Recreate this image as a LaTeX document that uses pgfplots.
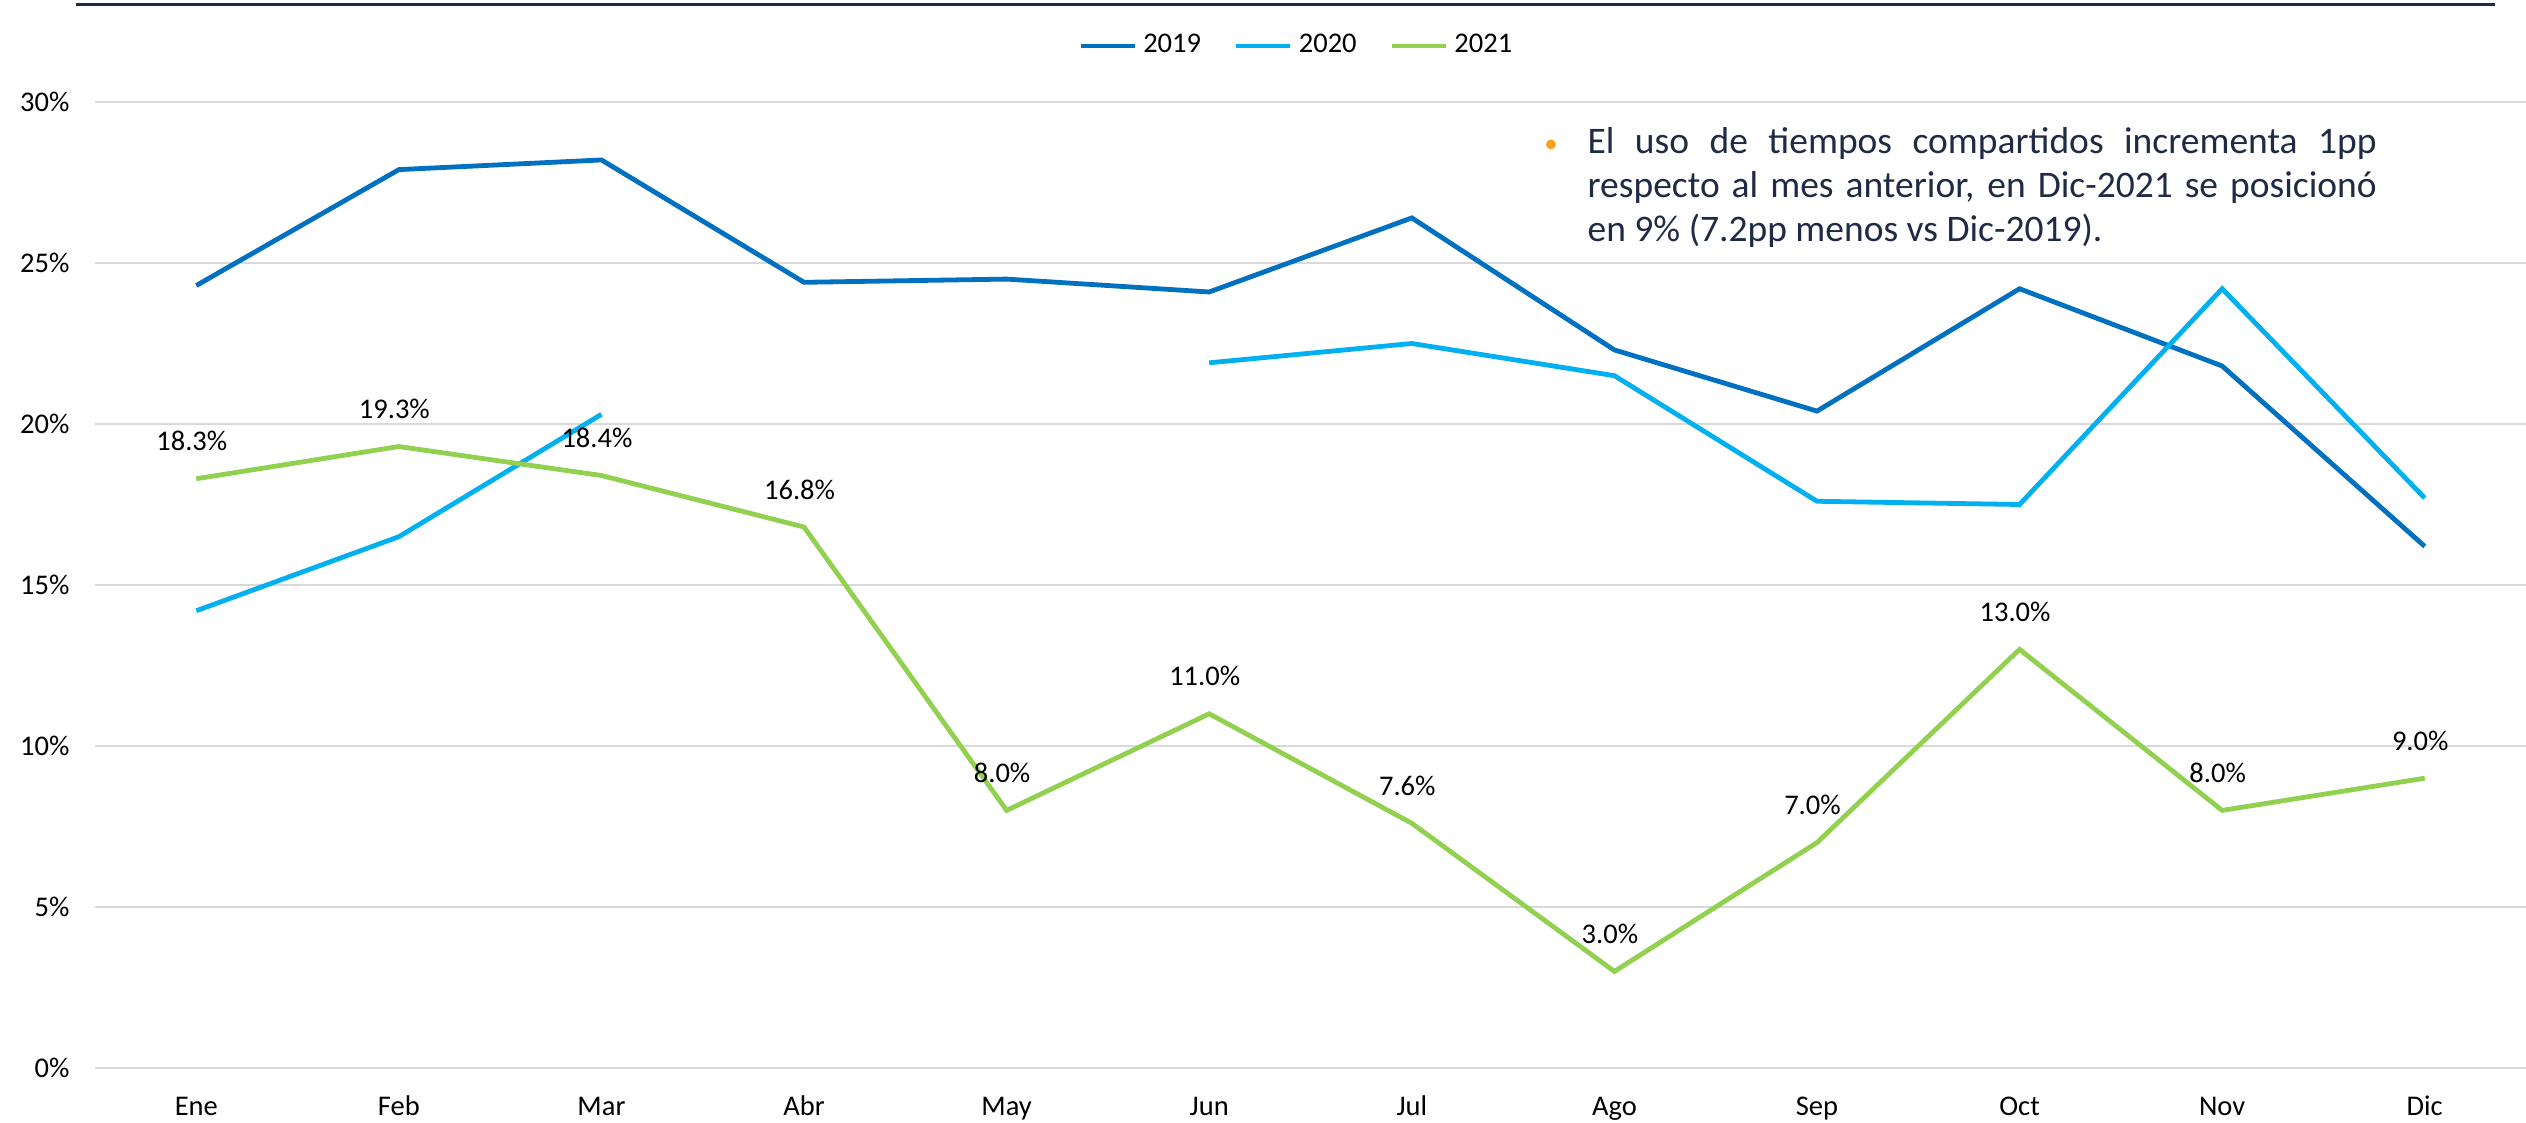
\documentclass[border=0pt]{standalone}
\usepackage{fontspec}
\setmainfont{Carlito}
\usepackage{pgfplots}
\pgfplotsset{compat=1.18}
\definecolor{c19}{HTML}{0070C0}
\definecolor{c20}{HTML}{00B0F0}
\definecolor{c21}{HTML}{92D050}
\definecolor{navy}{HTML}{1F2A44}
\definecolor{gridc}{HTML}{D9D9D9}
\definecolor{orng}{HTML}{F7A21B}
\begin{document}
\begin{tikzpicture}
\path[use as bounding box] (0,0) rectangle (842pt,374.33pt);
\draw[line width=0.9pt, navy] (25.3pt,372.9pt) -- (831.7pt,372.9pt);
\begin{axis}[
  at={(31.67pt,18.33pt)}, anchor=south west,
  scale only axis, width=810.33pt, height=322pt,
  xmin=-0.5, xmax=11.5, ymin=0, ymax=30,
  xtick={0,...,11},
  xticklabels={Ene,Feb,Mar,Abr,May,Jun,Jul,Ago,Sep,Oct,Nov,Dic},
  ytick={0,5,...,30},
  yticklabel={\pgfmathprintnumber{\tick}\%},
  /pgf/number format/assume math mode=true,
  major tick length=0pt,
  axis line style={draw=none},
  xmajorgrids=false, ymajorgrids=true,
  major grid style={draw=gridc, line width=0.75pt},
  tick style={draw=none},
  tick label style={font=\fontsize{9.5}{11}\selectfont, text=black},
  yticklabel style={inner sep=0pt, anchor=east, xshift=-8.3pt},
  xticklabel style={inner sep=0pt, anchor=base, yshift=-16pt},
  clip=false,
  unbounded coords=jump,
  legend columns=3,
  legend style={draw=none, fill=none, at={(0.495,1.058)}, anchor=center,
    font=\fontsize{9.5}{11}\selectfont, inner sep=0pt,
    /tikz/every even column/.append style={column sep=9pt}},
  legend image code/.code={\draw[#1, line width=1.6pt] (0pt,0pt) -- (18pt,0pt);},
]
\addplot[c19, line width=1.6pt] coordinates {
 (0,24.3) (1,27.9) (2,28.2) (3,24.4) (4,24.5) (5,24.1) (6,26.4) (7,22.3) (8,20.4) (9,24.2) (10,21.8) (11,16.2)};
\addlegendentry{2019}
\addplot[c20, line width=1.6pt] coordinates {
 (0,14.2) (1,16.5) (2,20.3) (3,nan) (4,nan) (5,21.9) (6,22.5) (7,21.5) (8,17.6) (9,17.5) (10,24.2) (11,17.7)};
\addlegendentry{2020}
\addplot[c21, line width=1.6pt,
  nodes near coords={\pgfmathprintnumber[fixed,fixed zerofill,precision=1]{\pgfplotspointmeta}\%},
  every node near coord/.style={anchor=center, yshift=12.5pt, xshift=-1.5pt, text=black, font=\fontsize{9.5}{11}\selectfont, /pgf/number format/assume math mode=true}
 ] coordinates {
 (0,18.3) (1,19.3) (2,18.4) (3,16.8) (4,8.0) (5,11.0) (6,7.6) (7,3.0) (8,7.0) (9,13.0) (10,8.0) (11,9.0)};
\addlegendentry{2021}
\end{axis}
\node[orng, font=\fontsize{9}{10}\selectfont] at (517pt,325.5pt) {\textbullet};
\node[anchor=north west, inner sep=0pt, align=left, text=navy,
  font=\fontsize{12.5}{14.6}\selectfont] at (529pt,332pt)
  {\makebox[263pt][s]{El uso de tiempos compartidos incrementa 1pp}\\
   \makebox[263pt][s]{respecto al mes anterior, en Dic-2021 se posicionó}\\
   en 9\% (7.2pp menos vs Dic-2019).};
\end{tikzpicture}
\end{document}
